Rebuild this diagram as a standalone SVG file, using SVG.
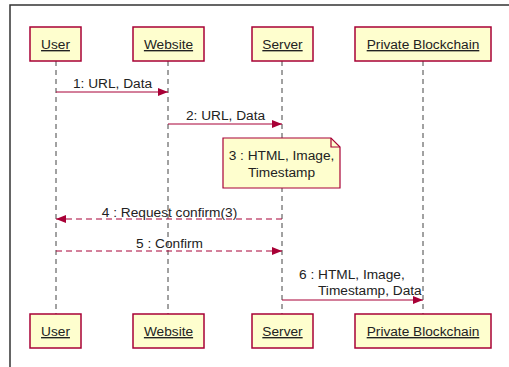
<svg xmlns="http://www.w3.org/2000/svg" width="509" height="367" viewBox="0 0 509 367">
<style>
.box{fill:#FEFECE;stroke:#A80036;stroke-width:1.5}
.pt{font-family:"Liberation Sans",Arial,sans-serif;font-size:13.7px;fill:#222;text-anchor:middle;text-decoration:underline}
.life{stroke:#444;stroke-width:1;stroke-dasharray:5,4;fill:none}
.msg{stroke:#A80036;stroke-width:1;fill:none}
.dash{stroke-dasharray:6,4}
.lbl{font-family:"Liberation Sans",Arial,sans-serif;font-size:13.7px;fill:#222}
.note{fill:#FBFB77;fill:#FEFECE;stroke:#A80036;stroke-width:1.2}
</style>
<defs>
<marker id="ah" viewBox="0 0 10 8" refX="10" refY="4" markerWidth="10" markerHeight="8" markerUnits="userSpaceOnUse" orient="auto">
<path d="M0,0 L10,4 L0,8 Z" fill="#A80036"/>
</marker>
</defs>
<rect width="509" height="367" fill="#fff"/>
<path d="M10,367 L10,5 L509,5" fill="none" stroke="#333" stroke-width="1.5"/>
<g id="lifelines">
<line class="life" x1="56" y1="61" x2="56" y2="314"/>
<line class="life" x1="168" y1="61" x2="168" y2="314"/>
<line class="life" x1="282" y1="61" x2="282" y2="314"/>
<line class="life" x1="423" y1="61" x2="423" y2="314"/>
</g>
<g id="user-top"><rect class="box" x="30" y="27" width="51" height="34"/><text class="pt" x="55.5" y="49">User</text></g>
<g id="website-top"><rect class="box" x="133" y="27" width="71" height="34"/><text class="pt" x="168.5" y="49">Website</text></g>
<g id="server-top"><rect class="box" x="252" y="27" width="61" height="34"/><text class="pt" x="282.5" y="49">Server</text></g>
<g id="blockchain-top"><rect class="box" x="355" y="27" width="136" height="34"/><text class="pt" x="423" y="49">Private Blockchain</text></g>
<g id="user-bottom"><rect class="box" x="30" y="314" width="51" height="34"/><text class="pt" x="55.5" y="336">User</text></g>
<g id="website-bottom"><rect class="box" x="133" y="314" width="71" height="34"/><text class="pt" x="168.5" y="336">Website</text></g>
<g id="server-bottom"><rect class="box" x="252" y="314" width="61" height="34"/><text class="pt" x="282.5" y="336">Server</text></g>
<g id="blockchain-bottom"><rect class="box" x="355" y="314" width="136" height="34"/><text class="pt" x="423" y="336">Private Blockchain</text></g>
<g id="note3">
<path class="note" d="M223,138 L331,138 L340,147 L340,188 L223,188 Z"/>
<path d="M331,138 L331,147 L340,147" fill="none" stroke="#A80036" stroke-width="1.2"/>
<text class="lbl" x="281.5" y="160" text-anchor="middle">3 : HTML, Image,</text>
<text class="lbl" x="281.5" y="177" text-anchor="middle">Timestamp</text>
</g>
<g id="connectors">
<line class="msg" x1="56" y1="92" x2="168" y2="92" marker-end="url(#ah)"/>
<line class="msg" x1="168" y1="124" x2="282" y2="124" marker-end="url(#ah)"/>
<line class="msg dash" x1="282" y1="219" x2="56" y2="219" marker-end="url(#ah)"/>
<line class="msg dash" x1="56" y1="251" x2="282" y2="251" marker-end="url(#ah)"/>
<line class="msg" x1="282" y1="300" x2="423" y2="300" marker-end="url(#ah)"/>
</g>
<g id="labels">
<text class="lbl" x="112.5" y="88" text-anchor="middle">1: URL, Data</text>
<text class="lbl" x="225.5" y="120" text-anchor="middle">2: URL, Data</text>
<text class="lbl" x="169.5" y="216.5" text-anchor="middle">4 : Request confirm(3)</text>
<text class="lbl" x="169.5" y="247.5" text-anchor="middle">5 : Confirm</text>
<text class="lbl" x="299" y="279">6 : HTML, Image,</text>
<text class="lbl" x="318" y="295">Timestamp, Data</text>
</g>
</svg>
